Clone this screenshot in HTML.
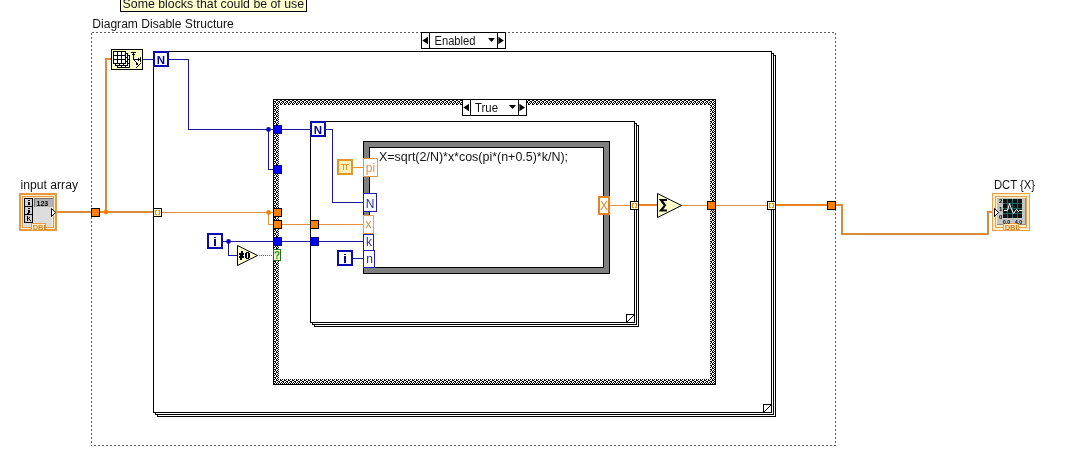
<!DOCTYPE html>
<html>
<head>
<meta charset="utf-8">
<title>DCT block diagram</title>
<style>
html,body{margin:0;padding:0;background:#fff;}
body{width:1079px;height:471px;overflow:hidden;font-family:"Liberation Sans",sans-serif;}
svg{display:block;position:absolute;left:0;top:0;will-change:transform;}
text{font-family:"Liberation Sans",sans-serif;}
.t{font-size:12px;fill:#141414;}
</style>
</head>
<body>
<svg width="1079" height="471" viewBox="0 0 1079 471">
<defs>
  <pattern id="cs" patternUnits="userSpaceOnUse" x="274" y="100" width="4" height="4">
    <rect x="0" y="0" width="4" height="4" fill="#fff"/>
    <rect x="2" y="0" width="2" height="1" fill="#000"/>
    <rect x="0" y="1" width="2" height="1" fill="#000"/>
    <rect x="1" y="2" width="1" height="1" fill="#000"/>
    <rect x="3" y="2" width="1" height="1" fill="#000"/>
    <rect x="0" y="3" width="1" height="1" fill="#000"/>
    <rect x="2" y="3" width="1" height="1" fill="#000"/>
  </pattern>
</defs>
<g shape-rendering="crispEdges">
<rect x="0" y="0" width="1079" height="471" fill="#fff"/>

<!-- comment box (cropped) -->
<rect x="120" y="-6" width="187" height="18" fill="#000"/>
<rect x="121" y="-5" width="185" height="16" fill="#ffffd2"/>

<!-- diagram disable dashed border -->
<g fill="none" stroke="#5e5e5e" stroke-width="1" stroke-dasharray="2 2">
  <path d="M91.5 33V446M94 445.5H836M835.5 33V445M92 32.5H835"/>
</g>

<!-- outer for loop (stacked pages) -->
<g fill="#fff" stroke="#000" stroke-width="1">
  <rect x="157.5" y="55.5" width="618" height="361"/>
  <rect x="155.5" y="53.5" width="618" height="361"/>
  <rect x="153.5" y="51.5" width="618" height="361"/>
  <path d="M763.5 412.5V404.5H771.5Z"/>
</g>

<!-- Enabled selector -->
<g>
  <rect x="421" y="32" width="85" height="17" fill="#000"/>
  <rect x="422" y="33" width="83" height="15" fill="#fff"/>
  <rect x="429" y="32" width="1" height="17" fill="#000"/>
  <rect x="497" y="32" width="1" height="17" fill="#000"/>
</g>

<!-- case structure -->
<rect x="273" y="99" width="443" height="286" fill="#000"/>
<rect x="274" y="100" width="441" height="284" fill="url(#cs)"/>
<rect x="279" y="105" width="431" height="274" fill="#fff"/>

<!-- True selector -->
<g>
  <rect x="462" y="99" width="65" height="17" fill="#000"/>
  <rect x="463" y="100" width="63" height="15" fill="#fff"/>
  <rect x="470" y="99" width="1" height="17" fill="#000"/>
  <rect x="518" y="99" width="1" height="17" fill="#000"/>
</g>

<!-- inner for loop -->
<g fill="#fff" stroke="#000" stroke-width="1">
  <rect x="314.5" y="125.5" width="324" height="201"/>
  <rect x="312.5" y="123.5" width="324" height="201"/>
  <rect x="310.5" y="121.5" width="324" height="201"/>
  <path d="M626.5 322.5V314.5H634.5Z"/>
</g>

<!-- formula node -->
<rect x="363" y="141" width="247" height="133" fill="#000"/>
<rect x="364" y="142" width="245" height="131" fill="#808080"/>
<rect x="369" y="147" width="235" height="121" fill="#000"/>
<rect x="370" y="148" width="233" height="119" fill="#fff"/>

<!-- ===== wires ===== -->
<!-- thick orange input wire -->
<g fill="#d98a3a">
  <rect x="57" y="211" width="96" height="2"/>
  <rect x="105" y="58" width="2" height="154"/>
  <rect x="105" y="58" width="6" height="2"/>
</g>
<!-- thin orange -->
<g fill="#e09040">
  <rect x="162" y="212" width="112" height="1"/>
  <rect x="268" y="212" width="1" height="13"/>
  <rect x="268" y="224" width="6" height="1"/>
  <rect x="282" y="224" width="29" height="1"/>
  <rect x="319" y="224" width="44" height="1"/>
  <rect x="353" y="167" width="10" height="1"/>
  <rect x="610" y="205" width="21" height="1"/>
  <rect x="682" y="205" width="26" height="1"/>
  <rect x="716" y="205" width="52" height="1"/>
</g>
<!-- thick orange output -->
<g fill="#e8821e">
  <rect x="639" y="204" width="19" height="2"/>
  <rect x="776" y="204" width="52" height="2"/>
</g>
<g fill="#d98a3a">
  <rect x="836" y="204" width="7" height="2"/>
  <rect x="841" y="204" width="2" height="31"/>
  <rect x="841" y="233" width="148" height="2"/>
  <rect x="987" y="211" width="2" height="24"/>
  <rect x="987" y="211" width="6" height="2"/>
</g>
<!-- blue wires -->
<g fill="#1a1a9a">
  <rect x="143" y="59" width="10" height="1"/>
  <rect x="169" y="59" width="20" height="1"/>
  <rect x="188" y="59" width="1" height="71"/>
  <rect x="188" y="129" width="86" height="1"/>
  <rect x="268" y="129" width="1" height="41"/>
  <rect x="268" y="169" width="6" height="1"/>
  <rect x="282" y="129" width="28" height="1"/>
  <rect x="326" y="129" width="7" height="1"/>
  <rect x="332" y="129" width="1" height="74"/>
  <rect x="332" y="202" width="31" height="1"/>
  <rect x="223" y="241" width="51" height="1"/>
  <rect x="228" y="241" width="1" height="15"/>
  <rect x="228" y="255" width="9" height="1"/>
  <rect x="282" y="241" width="29" height="1"/>
  <rect x="319" y="241" width="44" height="1"/>
  <rect x="353" y="258" width="10" height="1"/>
</g>
<!-- green dotted -->
<g fill="#2a8a2a">
  <rect x="259" y="255" width="1" height="1"/><rect x="261" y="255" width="1" height="1"/><rect x="263" y="255" width="1" height="1"/><rect x="265" y="255" width="1" height="1"/><rect x="267" y="255" width="1" height="1"/><rect x="269" y="255" width="1" height="1"/><rect x="271" y="255" width="1" height="1"/>
</g>

<!-- ===== tunnels ===== -->
<g>
  <!-- orange filled tunnels -->
  <g fill="#ff8000" stroke="#000" stroke-width="1">
    <rect x="91.5" y="208.5" width="8" height="8"/>
    <rect x="273.5" y="208.5" width="8" height="8"/>
    <rect x="273.5" y="220.5" width="8" height="8"/>
    <rect x="310.5" y="220.5" width="8" height="8"/>
    <rect x="707.5" y="201.5" width="8" height="8"/>
    <rect x="827.5" y="201.5" width="8" height="8"/>
  </g>
  <!-- blue filled tunnels -->
  <g fill="#0000ff" stroke="#00007a" stroke-width="1">
    <rect x="273.5" y="125.5" width="8" height="8"/>
    <rect x="273.5" y="165.5" width="8" height="8"/>
    <rect x="273.5" y="237.5" width="8" height="8"/>
    <rect x="310.5" y="237.5" width="8" height="8"/>
  </g>
  <!-- auto-index tunnels -->
  <g fill="#fff5cc" stroke="#000" stroke-width="1">
    <rect x="153.5" y="208.5" width="8" height="8"/>
    <rect x="630.5" y="201.5" width="8" height="8"/>
    <rect x="767.5" y="201.5" width="8" height="8"/>
  </g>
  <g fill="#d8952f">
    <rect x="155" y="210" width="1" height="5"/><rect x="155" y="210" width="2" height="1"/><rect x="155" y="214" width="2" height="1"/><rect x="159" y="210" width="1" height="5"/><rect x="158" y="210" width="2" height="1"/><rect x="158" y="214" width="2" height="1"/>
    <rect x="632" y="203" width="1" height="5"/><rect x="632" y="203" width="2" height="1"/><rect x="632" y="207" width="2" height="1"/><rect x="636" y="203" width="1" height="5"/><rect x="635" y="203" width="2" height="1"/><rect x="635" y="207" width="2" height="1"/>
    <rect x="769" y="203" width="1" height="5"/><rect x="769" y="203" width="2" height="1"/><rect x="769" y="207" width="2" height="1"/><rect x="773" y="203" width="1" height="5"/><rect x="772" y="203" width="2" height="1"/><rect x="772" y="207" width="2" height="1"/>
  </g>
  <!-- case selector ? -->
  <rect x="273.5" y="249.5" width="7" height="11" fill="#f0f8d0" stroke="#1e6e1e" stroke-width="1"/>
</g>
</g>

<!-- junction dots -->
<circle cx="106" cy="212" r="2.4" fill="#ff8000"/>
<circle cx="268.5" cy="212.5" r="2.4" fill="#ff8000"/>
<circle cx="268.5" cy="129.5" r="2.4" fill="#0a0ac8"/>
<circle cx="228.5" cy="241.5" r="2.4" fill="#0a0ac8"/>

<!-- ===== nodes ===== -->
<g shape-rendering="crispEdges">
  <!-- array size -->
  <rect x="111.5" y="49.5" width="31" height="20" fill="#ffffcc" stroke="#000"/>
  <rect x="117" y="55" width="13" height="13" fill="#000"/><rect x="118" y="56" width="3" height="3" fill="#fff"/><rect x="118" y="60" width="3" height="3" fill="#fff"/><rect x="118" y="64" width="3" height="3" fill="#fff"/><rect x="122" y="56" width="3" height="3" fill="#fff"/><rect x="122" y="60" width="3" height="3" fill="#fff"/><rect x="122" y="64" width="3" height="3" fill="#fff"/><rect x="126" y="56" width="3" height="3" fill="#fff"/><rect x="126" y="60" width="3" height="3" fill="#fff"/><rect x="126" y="64" width="3" height="3" fill="#fff"/>
  <rect x="115" y="53" width="13" height="13" fill="#000"/><rect x="116" y="54" width="3" height="3" fill="#fff"/><rect x="116" y="58" width="3" height="3" fill="#fff"/><rect x="116" y="62" width="3" height="3" fill="#fff"/><rect x="120" y="54" width="3" height="3" fill="#fff"/><rect x="120" y="58" width="3" height="3" fill="#fff"/><rect x="120" y="62" width="3" height="3" fill="#fff"/><rect x="124" y="54" width="3" height="3" fill="#fff"/><rect x="124" y="58" width="3" height="3" fill="#fff"/><rect x="124" y="62" width="3" height="3" fill="#fff"/>
  <rect x="113" y="51" width="13" height="13" fill="#000"/><rect x="114" y="52" width="3" height="3" fill="#fff"/><rect x="114" y="56" width="3" height="3" fill="#fff"/><rect x="114" y="60" width="3" height="3" fill="#fff"/><rect x="118" y="52" width="3" height="3" fill="#fff"/><rect x="118" y="56" width="3" height="3" fill="#fff"/><rect x="118" y="60" width="3" height="3" fill="#fff"/><rect x="122" y="52" width="3" height="3" fill="#fff"/><rect x="122" y="56" width="3" height="3" fill="#fff"/><rect x="122" y="60" width="3" height="3" fill="#fff"/>
  <g fill="#000">
    <rect x="131" y="52" width="5" height="1"/><rect x="132" y="54" width="3" height="1"/>
    <rect x="133" y="52" width="1" height="8"/>
    <rect x="133" y="59" width="8" height="1"/>
    <rect x="140" y="57" width="1" height="5"/><rect x="138" y="58" width="1" height="3"/>
    <rect x="134" y="60" width="1" height="1"/><rect x="135" y="61" width="1" height="1"/><rect x="136" y="62" width="1" height="1"/>
    <rect x="136" y="63" width="2" height="2"/>
    <rect x="140" y="63" width="1" height="1"/><rect x="139" y="64" width="1" height="1"/><rect x="138" y="65" width="1" height="1"/><rect x="137" y="66" width="1" height="1"/><rect x="136" y="67" width="1" height="1"/>
  </g>
  <!-- N boxes -->
  <rect x="154" y="52" width="14" height="14" fill="#fff" stroke="#0a0ab4" stroke-width="2"/>
  <rect x="311" y="122" width="14" height="14" fill="#fff" stroke="#0a0ab4" stroke-width="2"/>
  <!-- i boxes -->
  <rect x="208" y="234" width="14" height="14" fill="#fff" stroke="#0a0ab4" stroke-width="2"/>
  <rect x="338" y="251" width="14" height="14" fill="#fff" stroke="#0a0ab4" stroke-width="2"/>
  <!-- pi const -->
  <rect x="338" y="160" width="14" height="14" fill="#fff2b4" stroke="#e09432" stroke-width="2"/>
  <g fill="#e09432"><rect x="341" y="164" width="8" height="1"/><rect x="343" y="164" width="1" height="6"/><rect x="346" y="164" width="1" height="6"/></g>
  <!-- formula terminals -->
  <rect x="363.5" y="158.5" width="14" height="18" fill="#fff" stroke="#e0984a"/>
  <rect x="363.5" y="193.5" width="13" height="18" fill="#fff" stroke="#1e1eb4"/>
  <rect x="363.5" y="215.5" width="10" height="18" fill="#fff" stroke="#e8a04c"/>
  <rect x="363.5" y="234.5" width="10" height="16" fill="#fff" stroke="#1e1eb4"/>
  <rect x="363.5" y="250.5" width="11" height="17" fill="#fff" stroke="#1e1eb4"/>
  <rect x="599" y="197" width="10" height="17" fill="#fff" stroke="#e8821e" stroke-width="2"/>
</g>

<!-- triangles -->
<path d="M237.5 245.5V265.5L257.5 255.5Z" fill="#ffffcc" stroke="#000" stroke-width="1"/>
<path d="M657.5 193.5V217.5L681.5 205.5Z" fill="#ffffcc" stroke="#000" stroke-width="1"/>

<!-- selector arrows -->
<g fill="#000">
  <path d="M422.3 40.5L428 36.8V44.2Z"/>
  <path d="M503.8 40.5L498.3 36.8V44.2Z"/>
  <path d="M488 38H495L491.5 42Z"/>
  <path d="M463.4 107.5L469 103.8V111.2Z"/>
  <path d="M525 107.5L519.4 103.8V111.2Z"/>
  <path d="M509 105H516L512.5 109Z"/>
</g>

<!-- ===== text ===== -->
<text class="t" x="122.6" y="7.9" textLength="181.5" lengthAdjust="spacingAndGlyphs">Some blocks that could be of use</text>
<text class="t" x="92.3" y="27.7" textLength="141.5" lengthAdjust="spacingAndGlyphs">Diagram Disable Structure</text>
<text class="t" x="434.5" y="44.5" textLength="41" lengthAdjust="spacingAndGlyphs">Enabled</text>
<text class="t" x="475" y="111.5" textLength="23" lengthAdjust="spacingAndGlyphs">True</text>
<text class="t" x="20.5" y="188.5" textLength="57.5" lengthAdjust="spacingAndGlyphs">input array</text>
<text class="t" x="994" y="189" textLength="41" lengthAdjust="spacingAndGlyphs">DCT {X}</text>
<text class="t" x="379" y="160.5" textLength="189" lengthAdjust="spacingAndGlyphs">X=sqrt(2/N)*x*cos(pi*(n+0.5)*k/N);</text>

<!-- node letters -->
<g fill="#0000a0" shape-rendering="crispEdges">
  <rect x="214" y="237" width="2" height="1"/><rect x="214" y="239" width="2" height="7"/>
  <rect x="344" y="254" width="2" height="1"/><rect x="344" y="256" width="2" height="7"/>
</g>
<g font-weight="bold" fill="#0000a0" font-size="11.5px" text-anchor="middle">
  <text x="161" y="63.5">N</text>
  <text x="318" y="133.5">N</text>
</g>
<g font-size="12px" text-anchor="middle">
  <text x="370.5" y="171.6" fill="#e0904a">pi</text>
  <text x="370" y="207.5" fill="#2828c0">N</text>
  <text x="368.5" y="228" fill="#e0904a">x</text>
  <text x="369" y="246" fill="#2828c0">k</text>
  <text x="369.5" y="263" fill="#2828c0">n</text>
  <text x="604" y="210" fill="#e8821e">X</text>
  <text x="277" y="258.5" fill="#3c8a1c" font-size="10px" font-weight="bold">?</text>
</g>
<g fill="#000" shape-rendering="crispEdges">
  <rect x="239" y="253" width="5" height="2"/><rect x="239" y="256" width="5" height="2"/>
  <rect x="241" y="251" width="2" height="5"/><rect x="240" y="255" width="2" height="5"/>
  <rect x="245" y="253" width="2" height="5"/><rect x="248" y="253" width="2" height="5"/>
  <rect x="246" y="252" width="3" height="1"/><rect x="246" y="258" width="3" height="1"/>
</g>
<path d="M667 200H661L665 205.3L661 210.5H667" fill="none" stroke="#000" stroke-width="2.2" stroke-linejoin="miter"/>

<!-- input array control -->
<g id="inarr" shape-rendering="crispEdges">
  <rect x="19" y="193" width="38" height="38" fill="#e89844"/>
  <rect x="21" y="195" width="34" height="34" fill="#fff0c8"/>
  <rect x="22" y="196" width="32" height="32" fill="#e89844"/>
  <rect x="23" y="197" width="30" height="30" fill="#fff0c8"/>
  <rect x="24" y="198" width="28" height="29" fill="#dcdcdc"/>
  <!-- ijk -->
  <rect x="24" y="198" width="9" height="25" fill="#000"/>
  <rect x="25" y="199" width="7" height="7" fill="#d0d0d0"/>
  <rect x="25" y="207" width="7" height="7" fill="#d0d0d0"/>
  <rect x="25" y="215" width="7" height="7" fill="#d0d0d0"/>
  <!-- 123 box -->
  <rect x="34" y="198" width="19" height="9" fill="#707070"/>
  <rect x="35" y="199" width="18" height="8" fill="#b4b4b4"/>
  <!-- DBL -->
  <rect x="31" y="223" width="15" height="7" fill="#e89844"/>
  <rect x="32" y="224" width="13" height="6" fill="#fff0c8"/>
</g>
<path d="M51.5 208.5V216.5L55.5 212.5Z" fill="#fff" stroke="#000" stroke-width="1"/>
<g fill="#000" shape-rendering="crispEdges">
  <!-- i -->
  <rect x="28" y="200" width="2" height="1"/><rect x="28" y="202" width="2" height="3"/>
  <!-- j -->
  <rect x="28" y="208" width="2" height="1"/><rect x="28" y="210" width="2" height="3"/><rect x="27" y="213" width="2" height="1"/>
  <!-- k -->
  <rect x="27" y="216" width="1" height="5"/><rect x="28" y="218" width="1" height="1"/><rect x="29" y="217" width="1" height="1"/><rect x="29" y="219" width="1" height="1"/><rect x="30" y="220" width="1" height="1"/>
</g>
<text x="36.5" y="205.6" font-size="7px" font-weight="bold" fill="#000">123</text>
<text x="32.7" y="229.6" font-size="7.5px" font-weight="bold" fill="#d87c1c">DBL</text>

<!-- DCT indicator -->
<g id="dct" shape-rendering="crispEdges">
  <rect x="992" y="193" width="38" height="38" fill="#e8a050"/>
  <rect x="993" y="194" width="36" height="36" fill="#fff0c8"/>
  <rect x="995" y="196" width="32" height="32" fill="#e8a050"/>
  <rect x="996" y="197" width="30" height="30" fill="#fff0c8"/>
  <rect x="997" y="198" width="29" height="27" fill="#8a8a8a"/>
  <rect x="997" y="198" width="28" height="26" fill="#c4c4c4"/>
  <rect x="1003" y="199" width="19" height="19" fill="#0c1414"/>
  <g fill="#256464">
    <rect x="1003" y="203" width="19" height="1"/><rect x="1003" y="208" width="19" height="1"/><rect x="1003" y="213" width="19" height="1"/>
    <rect x="1007" y="199" width="1" height="19"/><rect x="1012" y="199" width="1" height="19"/><rect x="1017" y="199" width="1" height="19"/>
  </g>
  <rect x="1003" y="223" width="16" height="7" fill="#e8a050"/>
  <rect x="1004" y="224" width="14" height="6" fill="#fff0c8"/>
</g>
<path d="M1004 210.5H1007.5L1009.5 203.5L1011 208L1013.5 213.5L1016.5 209.5L1018.5 211.5L1019.5 210.5H1022" fill="none" stroke="#fff" stroke-width="1"/>
<path d="M994.5 208.5V216.5L998.5 212.5Z" fill="#fff" stroke="#000" stroke-width="1"/>
<g font-size="6px" font-weight="bold" fill="#000">
  <text x="999" y="203">2</text>
  <text x="999" y="211">1</text>
  <text x="999" y="219">0</text>
  <text x="1003" y="224" font-size="5px">0.0</text>
  <text x="1015" y="224" font-size="5px">4.0</text>
</g>
<text x="1004.7" y="229.6" font-size="7.5px" font-weight="bold" fill="#d87c1c">DBL</text>
</svg>
</body>
</html>
